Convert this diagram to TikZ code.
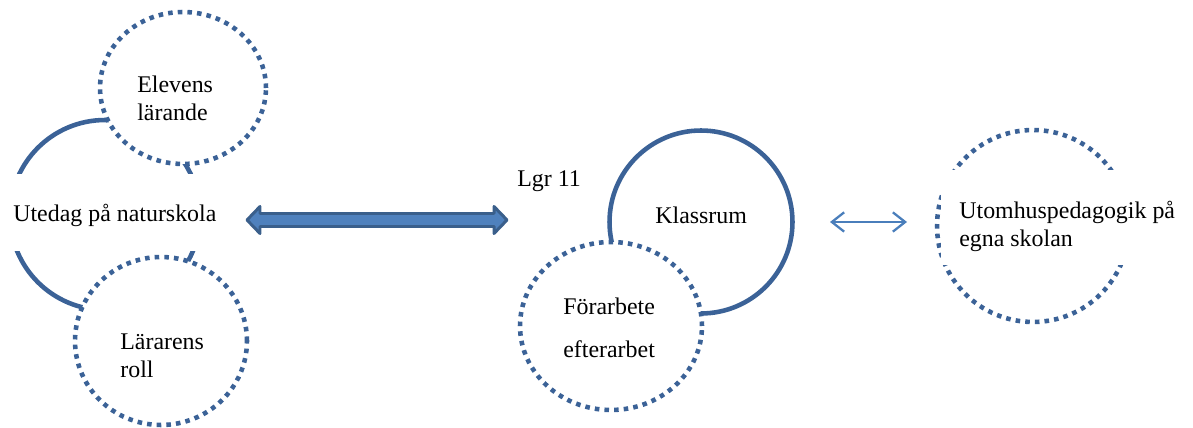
\documentclass[tikz,border=0pt]{standalone}
\usepackage{fontspec}
\setmainfont{Liberation Serif}
\usetikzlibrary{shapes.geometric,arrows.meta}
\definecolor{ringblue}{HTML}{3B6297}
\definecolor{arrowfill}{HTML}{4F81BD}
\definecolor{arrowedge}{HTML}{3A5F8B}
\definecolor{thinblue}{HTML}{4A7EBB}

\begin{document}
\begin{tikzpicture}[x=0.02cm, y=-0.02cm,
    solidring/.style={circle, draw=ringblue, line width=2.6pt, inner sep=0pt},
    dotring/.style={ellipse, draw=ringblue, fill=white, line width=2.6pt,
      dash pattern=on 2.6pt off 2.9pt, inner sep=0pt},
    txt/.style={font=\fontsize{13.6}{16}\selectfont, align=left, inner sep=0pt},
    bigarrow/.style={draw=arrowedge, fill=arrowfill, line width=1.7pt, line join=round},
    thinarrow/.style={draw=thinblue, line width=1.3pt,
      {Straight Barb[length=7pt, width=11pt]}-{Straight Barb[length=7pt, width=11pt]}}]
  \useasboundingbox (0,0) rectangle (1193,428);

  % Utedag (solid ring, partly hidden)
  \node[solidring, minimum size=3.8cm] (utering) at (105,215) {};
  \node[dotring, minimum width=3.32cm, minimum height=3.04cm] (elevring) at (183,88) {};
  \node[dotring, minimum width=3.44cm, minimum height=3.36cm] (lararring) at (161,341) {};
  \fill[white] (5,174) rectangle (222,251);
  \node[txt, anchor=base west] (utedag) at (13,222) {Utedag på naturskola};
  \node[txt, anchor=base west] (elevens) at (137,121) {Elevens\\lärande};
  \node[txt, anchor=base west] (lararens) at (120,378) {Lärarens\\roll};

  % Big double arrow
  \coordinate (bl) at (247,220);
  \coordinate (br) at (507,220);
  \draw[bigarrow] (bl) -- ++(13,-13.5) -- ++(0,7) -- ++(234,0) -- ++(0,-7) -- (br)
    -- ++(-13,13.5) -- ++(0,-7) -- ++(-234,0) -- ++(0,7) -- cycle;

  % Lgr 11
  \node[txt, anchor=base west] (lgr) at (517,187) {Lgr 11};

  % Klassrum + Förarbete
  \node[solidring, minimum size=3.66cm] (klassring) at (701,222) {};
  \node[dotring, minimum width=3.64cm, minimum height=3.36cm] (forring) at (611,326) {};
  \node[txt, anchor=base west] (klassrum) at (655,224) {Klassrum};
  \node[txt, font=\fontsize{13.6}{24.5}\selectfont, anchor=base west] (forarbete) at (563,358) {Förarbete\\efterarbet};

  % Thin double arrow
  \coordinate (sl) at (830,222);
  \coordinate (sr) at (907,222);
  \draw[thinarrow] (sl) -- (sr);

  % Utomhuspedagogik (dotted ring, partly hidden)
  \node[dotring, minimum width=3.84cm, minimum height=3.84cm] (uteskring) at (1033,226) {};
  \fill[white] (941,170) rectangle (1193,265);
  \node[txt, anchor=base west] (utomhus) at (959,247) {Utomhuspedagogik på\\egna skolan};
\end{tikzpicture}
\end{document}
